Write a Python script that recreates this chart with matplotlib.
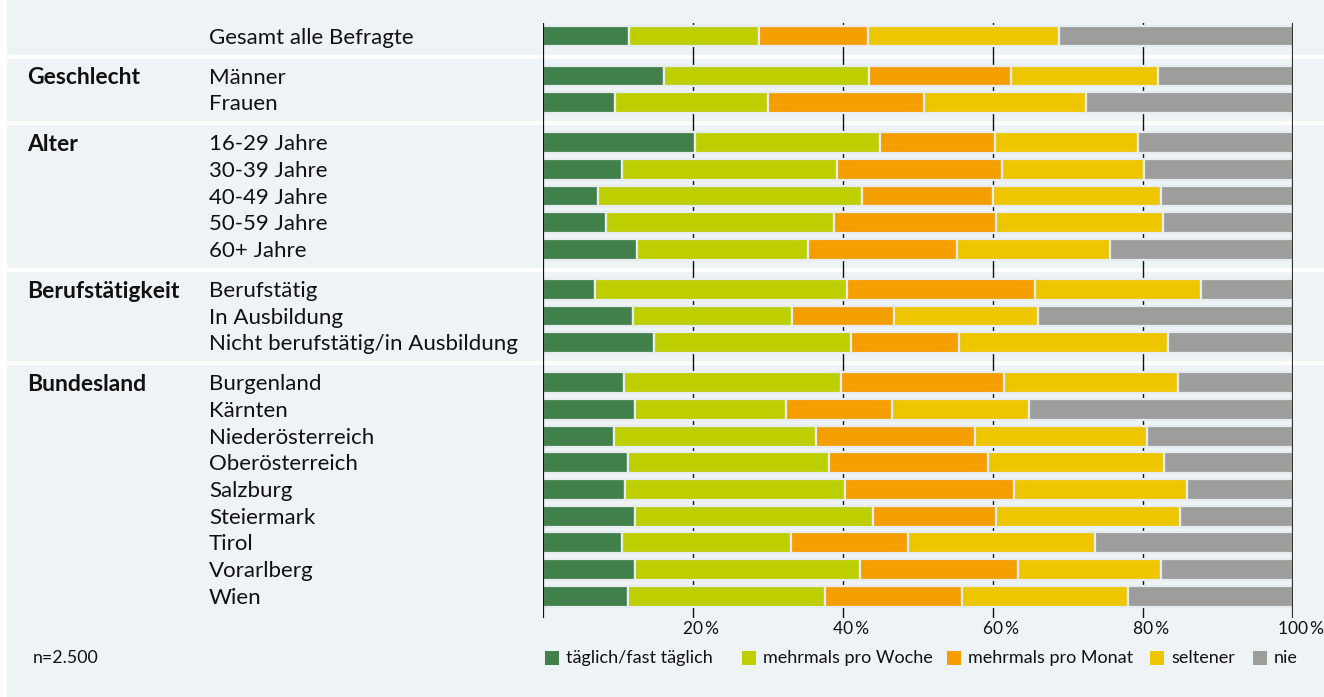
import matplotlib
matplotlib.use("Agg")
import matplotlib.pyplot as plt
from matplotlib.transforms import blended_transform_factory
from matplotlib.patches import Rectangle
import numpy as np

# ---- data ----
groups = ["", "Geschlecht", "Alter", "Berufstätigkeit", "Bundesland"]
categories = [
    ["Gesamt alle Befragte"],
    ["Männer", "Frauen"],
    ["16-29 Jahre", "30-39 Jahre", "40-49 Jahre", "50-59 Jahre", "60+ Jahre"],
    ["Berufstätig", "In Ausbildung", "Nicht berufstätig/in Ausbildung"],
    ["Burgenland", "Kärnten", "Niederösterreich", "Oberösterreich", "Salzburg",
     "Steiermark", "Tirol", "Vorarlberg", "Wien"],
]
series_names = ["täglich/fast täglich", "mehrmals pro Woche", "mehrmals pro Monat",
                "seltener", "nie"]

taeglich = [11.4, 16.1, 9.6, 20.2, 10.5, 7.3, 8.3, 12.5, 6.9, 11.9, 14.7,
            10.8, 12.2, 9.4, 11.3, 10.9, 12.2, 10.5, 12.2, 11.3]
woche = [17.4, 27.3, 20.4, 24.7, 28.6, 35.2, 30.5, 22.8, 33.6, 21.3, 26.3,
         28.9, 20.2, 26.9, 26.8, 29.3, 31.8, 22.5, 30.0, 26.3]
monat = [14.5, 19.0, 20.8, 15.3, 22.1, 17.5, 21.6, 19.9, 25.0, 13.6, 14.4,
         21.7, 14.1, 21.3, 21.2, 22.5, 16.4, 15.6, 21.1, 18.2]
seltener = [25.5, 19.6, 21.6, 19.1, 18.9, 22.4, 22.2, 20.3, 22.2, 19.2, 27.9,
            23.2, 18.3, 22.9, 23.5, 23.1, 24.5, 24.9, 19.1, 22.1]
nie = [31.2, 18.0, 27.6, 20.7, 19.9, 17.6, 17.4, 24.5, 12.3, 34.0, 16.7,
       15.4, 35.2, 19.5, 17.2, 14.2, 15.1, 26.5, 17.6, 22.1]

xticks = [20, 40, 60, 80, 100]
xtick_labels = ["20\u2009%", "40\u2009%", "60\u2009%", "80\u2009%", "100\u2009%"]
note = "n=2.500"

colors = ["#41804a", "#bdcf00", "#f59e00", "#edc600", "#9d9e9c"]
bg = "#eef3f6"

# ---- layout ----
W, H = 1324, 697
plt.rcParams["font.family"] = ["Lato", "DejaVu Sans"]
fig = plt.figure(figsize=(W / 100, H / 100), dpi=100)
fig.patch.set_facecolor(bg)
fig.patches.append(Rectangle((0, 0), 7 / W, 1, transform=fig.transFigure,
                             facecolor="white", edgecolor="none", zorder=-10))

ax_left = 543.3 / W
ax_right = 1293.3 / W
ax_top = 1 - 22.7 / H
ax_bot = 1 - 618 / H
ax = fig.add_axes([ax_left, ax_bot, ax_right - ax_left, ax_top - ax_bot])
ax.set_facecolor("none")
for s in ax.spines.values():
    s.set_visible(False)

# y positions
ypos = []
group_first = []
seps = []
y = 0.0
for gi, cats in enumerate(categories):
    if gi > 0:
        seps.append(y + 0.77 - 1.0)
        y += 0.5
    group_first.append(y)
    for c in cats:
        ypos.append(y)
        y += 1.0
ypos = np.array(ypos)

ax.set_ylim(21.82, -0.5)
ax.set_xlim(0, 100)

data = [taeglich, woche, monat, seltener, nie]
left = np.zeros(len(ypos))
for vals, col, name in zip(data, colors, series_names):
    vals = np.array(vals)
    ax.barh(ypos, vals, left=left, height=0.78, color=col, edgecolor="#e6ecef",
            linewidth=1.6, zorder=3, label=name)
    left += vals

# gridlines
for xv in [20, 40, 60, 80]:
    ax.axvline(xv, color="#111111", lw=1.0, zorder=2)
ax.axvline(0, color="#111111", lw=1.6, zorder=4)
ax.axvline(100, color="#333333", lw=1.6, zorder=4)

# separators (white lines across figure)
tr_sep = blended_transform_factory(fig.transFigure, ax.transData)
for s in seps:
    ax.plot([7 / W, 1.0], [s, s], color="white", lw=3, transform=tr_sep,
            clip_on=False, zorder=1.5)

ax.set_xticks([])
ax.set_yticks([])

# category labels
fs = 16
dy = 0.06
k = 0
for gi, cats in enumerate(categories):
    if groups[gi]:
        ax.text(27 / W, group_first[gi] + dy, groups[gi], transform=tr_sep,
                ha="left", va="center", fontsize=16.5, fontweight="bold",
                color="#111111")
    for c in cats:
        ax.text(209 / W, ypos[k] + dy, c, transform=tr_sep, ha="left",
                va="center", fontsize=fs, color="#111111")
        k += 1

# x tick labels
for xv, lab in zip(xticks, xtick_labels):
    ax.text(xv + 1.0, 21.95, lab, ha="center", va="top", fontsize=12.5,
            color="#111111", transform=ax.transData)

# legend (manual placement)
leg_y = 1 - 658 / H
sq_x = [545, 742, 947, 1150, 1253]
sq = 14
for xp, col, name in zip(sq_x, colors, series_names):
    fig.patches.append(Rectangle((xp / W, leg_y - (sq / 2) / H), sq / W, sq / H,
                                 transform=fig.transFigure, facecolor=col,
                                 edgecolor="none"))
    fig.text((xp + sq + 7) / W, leg_y, name, ha="left", va="center",
             fontsize=13, color="#111111")

fig.text(33 / W, leg_y, note, ha="left", va="center", fontsize=12.8,
         color="#111111")

fig.savefig("out.png", dpi=100, facecolor=fig.get_facecolor())
